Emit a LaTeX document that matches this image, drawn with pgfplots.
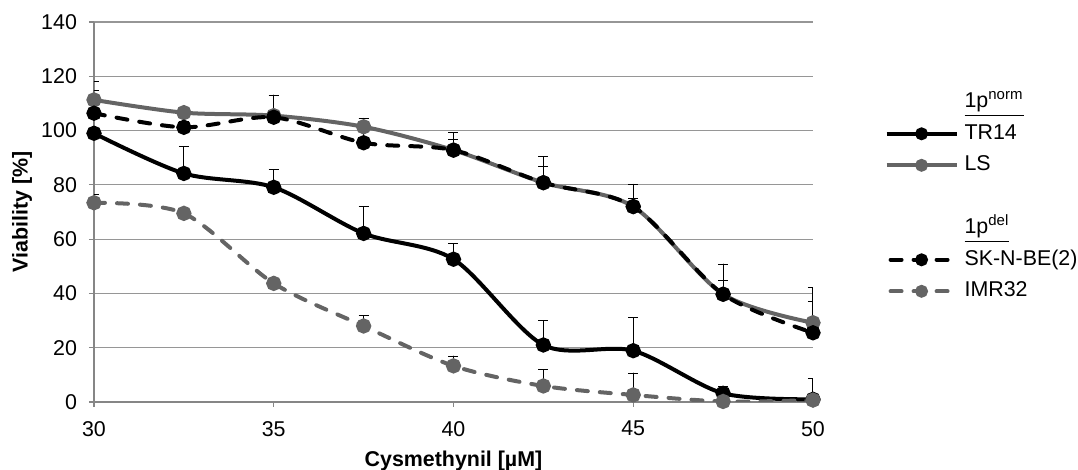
\documentclass[border=0pt]{standalone}
\usepackage{pgfplots}
\usepackage{pgfplotstable}
\pgfplotsset{compat=1.18}
\usepackage{fontspec}
\setmainfont{Liberation Sans}

\definecolor{lsgray}{RGB}{100,100,100}
\definecolor{gridgray}{RGB}{150,150,150}
\definecolor{axisgray}{RGB}{134,134,134}

\pgfplotsset{
  uperr/.style={
    error bars/y dir=plus,
    error bars/y explicit,
    error bars/error bar style={black, line width=0.5pt, solid},
    error bars/error mark options={black, line width=0.5pt, mark size=2.5pt, rotate=90, solid},
  },
  dashed line/.style={dash pattern=on 5.5pt off 6pt, line cap=round},
}

% concentration, viability, upper error
\pgfplotstableread{
x    y      e
30   99.0   7.0
32.5 84.2   10.1
35   79.1   6.6
37.5 62.1   9.9
40   52.6   5.9
42.5 21.0   9.0
45   18.9   12.2
47.5 3.2    2.4
50   1.0    7.7
}\trfourteen
\pgfplotstableread{
x    y      e
30   111.3  6.7
32.5 106.6  1.5
35   105.5  2.0
37.5 101.4  3.1
40   92.8   4.0
42.5 80.8   5.9
45   72.0   3.0
47.5 39.7   5.0
50   29.2   7.8
}\ls
\pgfplotstableread{
x    y      e
30   106.4  8.3
32.5 101.2  2.0
35   104.9  8.2
37.5 95.5   9.0
40   92.8   6.4
42.5 80.8   9.6
45   72.0   8.2
47.5 39.7   11.1
50   25.5   16.6
}\skbe
\pgfplotstableread{
x    y      e
30   73.4   2.9
32.5 69.5   1.5
35   43.7   1.5
37.5 28.0   3.7
40   13.3   3.6
42.5 5.9    5.9
45   2.6    8.0
47.5 0.2    1.0
50   0.7    1.0
}\imr

\begin{document}
\begin{tikzpicture}
\path[use as bounding box] (0,0) rectangle (539pt,235pt);
\begin{axis}[
  at={(47pt,34pt)}, anchor=south west,
  scale only axis, width=359.5pt, height=190pt,
  xmin=30, xmax=50, ymin=0, ymax=140,
  xtick={30,35,...,50}, ytick={0,20,...,140},
  axis x line*=bottom, axis y line*=left,
  axis line style={axisgray, line width=0.6pt, -},
  tick align=outside, major tick length=2.5pt,
  tick style={axisgray, line width=0.6pt},
  ymajorgrids, grid style={gridgray, line width=0.6pt},
  /pgf/number format/assume math mode=true,
  tick label style={font=\fontsize{10.7}{12}\selectfont},
  yticklabel style={xshift=-2.5pt},
  xticklabel style={yshift=-3.5pt},
  every axis y label/.style={at={(axis description cs:-0.1001,0.5)}, rotate=90, anchor=center},
  every axis x label/.style={at={(axis description cs:0.5,-0.155)}, anchor=center},
  label style={font=\fontsize{10.7}{12}\selectfont\bfseries},
  xlabel={Cysmethynil [µM]},
  ylabel={Viability [\%]},
  legend style={draw=none, fill=none, at={(axis description cs:1.099,0.54)}, anchor=west,
    inner sep=0pt, column sep=3pt, row sep=6.25pt,
    font=\fontsize{10.7}{12}\selectfont,
    nodes={inner sep=0pt, text height=7.5pt, text depth=2pt}},
  legend cell align=left,
  legend image code/.code={\draw[mark repeat=2, mark phase=2, mark size=2.2pt, dash phase=-2pt]
     plot coordinates {(0pt,0pt) (17.5pt,0pt) (35pt,0pt)};},
  every axis plot/.append style={smooth, tension=0.5, line width=2pt},
]
\addlegendimage{empty legend}
\addlegendentry{\underline{1p\textsuperscript{norm}}}

\addplot[black, mark=*, mark size=2.8pt, mark options={solid}, uperr]
  table[x=x, y=y, y error=e] {\trfourteen};
\addlegendentry{TR14}

\addplot[lsgray, mark=*, mark size=2.8pt, mark options={solid}, uperr]
  table[x=x, y=y, y error=e] {\ls};
\addlegendentry{LS}

\addlegendimage{empty legend}
\addlegendentry{}
\addlegendimage{empty legend}
\addlegendentry{\underline{1p\textsuperscript{del}}}

\addplot[black, dashed line, mark=*, mark size=2.8pt, mark options={solid}, uperr]
  table[x=x, y=y, y error=e] {\skbe};
\addlegendentry{SK-N-BE(2)}

\addplot[lsgray, dashed line, mark=*, mark size=2.8pt, mark options={solid}, uperr]
  table[x=x, y=y, y error=e] {\imr};
\addlegendentry{IMR32}
\end{axis}
\end{tikzpicture}
\end{document}
